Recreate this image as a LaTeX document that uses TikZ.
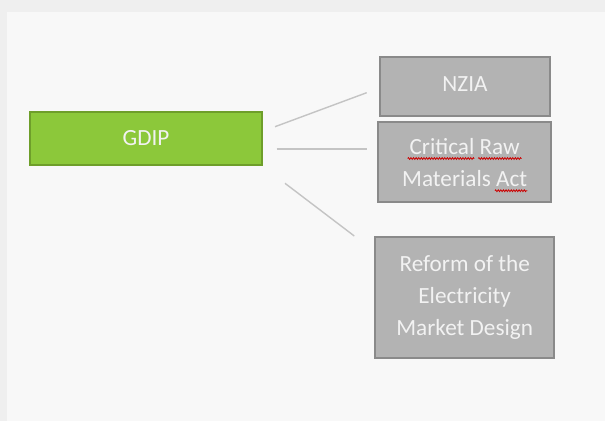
\documentclass[tikz,border=0pt]{standalone}
\usepackage{fontspec}
\setmainfont{Carlito}
\usetikzlibrary{decorations.pathmorphing}
\definecolor{outerbg}{HTML}{EFEFEF}
\definecolor{panelbg}{HTML}{F8F8F8}
\definecolor{gfill}{HTML}{8CC83A}
\definecolor{gdraw}{HTML}{6E9E2A}
\definecolor{bfill}{HTML}{B3B3B3}
\definecolor{bdraw}{HTML}{8A8A8A}
\definecolor{lnk}{HTML}{C4C4C4}
\definecolor{txt}{HTML}{F2F2F2}
\tikzset{
  box/.style={draw=bdraw, fill=bfill, line width=2pt, inner sep=0pt, text=txt,
    align=center, font=\fontsize{23.2}{32}\selectfont},
  gbox/.style={box, draw=gdraw, fill=gfill},
  link/.style={draw=lnk, line width=1.4pt},
  squig/.style={draw=red!80!black, line width=0.8pt, decorate,
    decoration={zigzag, amplitude=0.9pt, segment length=2.6pt}}
}
\begin{document}
\begin{tikzpicture}[x=1pt,y=-1pt]
\useasboundingbox (0,0) rectangle (605,421);
\fill[outerbg] (0,0) rectangle (605,421);
\fill[panelbg] (7,12) rectangle (605,421);
% boxes
\node[gbox, minimum width=232pt, minimum height=53pt] (gdip) at (146,138.3) {GDIP};
\node[box, minimum width=170pt, minimum height=59pt] (nzia) at (465,86.3) {\raisebox{4pt}{NZIA}};
\node[box, minimum width=172.7pt, minimum height=80pt] (crma) at (464.7,162.3) {Critical Raw\\Materials Act};
\node[box, minimum width=179.3pt, minimum height=121pt] (rem) at (464.7,297.2) {Reform of the\\Electricity\\Market Design};
% free-standing lines
\coordinate (a1) at (275,126.7); \coordinate (b1) at (366.7,92.7);
\coordinate (a2) at (276.7,149); \coordinate (b2) at (367.3,149);
\coordinate (a3) at (285,183.3); \coordinate (b3) at (354.3,236);
\draw[link] (a1) -- (b1);
\draw[link] (a2) -- (b2);
\draw[link] (a3) -- (b3);
% spell-check underlines
\coordinate (s1a) at (407.7,158.5); \coordinate (s1b) at (474.3,158.5);
\coordinate (s2a) at (478.3,158.5); \coordinate (s2b) at (521.7,158.5);
\coordinate (s3a) at (495,190.7); \coordinate (s3b) at (527.3,190.7);
\draw[squig] (s1a) -- (s1b);
\draw[squig] (s2a) -- (s2b);
\draw[squig] (s3a) -- (s3b);
\end{tikzpicture}
\end{document}
